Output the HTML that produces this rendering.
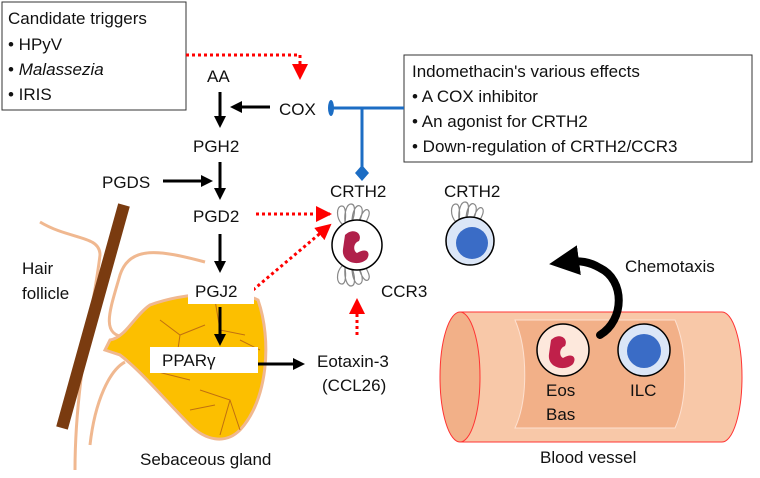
<!DOCTYPE html>
<html><head><style>
body{margin:0;background:#fff}
svg text{font-family:"Liberation Sans",sans-serif;font-size:17px;fill:#111}
</style></head><body>
<svg width="760" height="473" viewBox="0 0 760 473" xmlns="http://www.w3.org/2000/svg">
<defs>
<marker id="ak" markerWidth="12" markerHeight="12" refX="9" refY="6" orient="auto" markerUnits="userSpaceOnUse"><path d="M0,0 L12,6 L0,12 z" fill="#000"/></marker>
<marker id="ar" markerWidth="16" markerHeight="16" refX="14" refY="8" orient="auto" markerUnits="userSpaceOnUse"><path d="M0,0 L16,8 L0,16 z" fill="#f00"/></marker>
<marker id="ab" markerWidth="30" markerHeight="30" refX="14" refY="15" orient="auto" markerUnits="userSpaceOnUse"><path d="M0,0 L30,15 L0,30 z" fill="#000"/></marker>
</defs>
<!-- hair follicle lines -->
<path d="M40,222 C70,240 100,235 100,255 C95,300 75,380 75,470" fill="none" stroke="#f0b890" stroke-width="3"/>
<path d="M205,262 C160,250 130,245 120,275 C110,310 100,335 125,337" fill="none" stroke="#f0b890" stroke-width="3"/>
<path d="M125,362 C110,370 95,400 90,445" fill="none" stroke="#f0b890" stroke-width="3"/>
<!-- gland -->
<path d="M150,305 C185,292 240,290 258,300 C272,340 268,400 240,430 C225,445 205,440 190,425 C165,400 140,370 120,355 L105,350 L110,340 C125,338 135,315 150,305z" fill="#fcbf00" stroke="#f0b890" stroke-width="3"/>
<path d="M160,320 l20,15 l25,-10 M180,335 l-5,35 M200,390 l30,10 l10,30 M215,300 l5,30 l25,5 M150,370 l40,10 M230,400 l-10,35 M240,340 l20,10 M190,410 l25,-5" stroke="#c07010" stroke-width="1" fill="none"/>
<line x1="124" y1="205" x2="62" y2="428" stroke="#7a3b10" stroke-width="12"/>
<!-- boxes -->
<rect x="2" y="2" width="184" height="108" fill="#fff" stroke="#333" stroke-width="1"/>
<text x="8" y="24">Candidate triggers</text>
<text x="8" y="50">• HPyV</text>
<text x="8" y="75">• <tspan font-style="italic">Malassezia</tspan></text>
<text x="8" y="100">• IRIS</text>
<rect x="404" y="55" width="348" height="107" fill="#fff" stroke="#333" stroke-width="1"/>
<text x="412" y="77">Indomethacin's various effects</text>
<text x="412" y="102">• A COX inhibitor</text>
<text x="412" y="127">• An agonist for CRTH2</text>
<text x="412" y="152">• Down-regulation of CRTH2/CCR3</text>
<!-- red dotted -->
<g stroke="#f00" stroke-width="3" stroke-dasharray="3,3" fill="none">
<path d="M186,55 H300 V78" marker-end="url(#ar)"/>
<line x1="256" y1="214" x2="330" y2="214" marker-end="url(#ar)"/>
<line x1="253" y1="290" x2="330" y2="225" marker-end="url(#ar)"/>
<line x1="357" y1="335" x2="357" y2="300" marker-end="url(#ar)"/>
</g>
<!-- black arrows -->
<g stroke="#000" stroke-width="3" fill="none">
<line x1="220" y1="92" x2="220" y2="125" marker-end="url(#ak)"/>
<line x1="270" y1="107" x2="233" y2="107" marker-end="url(#ak)"/>
<line x1="220" y1="162" x2="220" y2="197" marker-end="url(#ak)"/>
<line x1="163" y1="181" x2="210" y2="181" marker-end="url(#ak)"/>
<line x1="220" y1="234" x2="220" y2="270" marker-end="url(#ak)"/>
<line x1="220" y1="307" x2="220" y2="343" marker-end="url(#ak)"/>
<line x1="258" y1="364" x2="302" y2="364" marker-end="url(#ak)"/>
</g>
<!-- blue inhibitor -->
<line x1="333" y1="108" x2="404" y2="108" stroke="#1c6dc4" stroke-width="3"/>
<line x1="362" y1="108" x2="362" y2="170" stroke="#1c6dc4" stroke-width="3"/>
<ellipse cx="331" cy="108" rx="3" ry="8" fill="#1c6dc4"/>
<path d="M362,165 l7,8 l-7,8 l-7,-8z" fill="#1c6dc4"/>
<!-- labels -->
<text x="207" y="82">AA</text>
<text x="279" y="115">COX</text>
<text x="193" y="152">PGH2</text>
<text x="102" y="188">PGDS</text>
<text x="193" y="222">PGD2</text>
<rect x="188" y="280" width="66" height="24" fill="#fff"/>
<text x="195" y="297">PGJ2</text>
<rect x="150" y="347" width="108" height="26" fill="#fff"/>
<text x="162" y="366">PPARγ</text>
<text x="317" y="367">Eotaxin-3</text>
<text x="322" y="391">(CCL26)</text>
<text x="330" y="197">CRTH2</text>
<text x="444" y="197">CRTH2</text>
<text x="381" y="297">CCR3</text>
<text x="22" y="274">Hair</text>
<text x="22" y="299">follicle</text>
<text x="140" y="465">Sebaceous gland</text>
<text x="540" y="463">Blood vessel</text>
<text x="625" y="272">Chemotaxis</text>
<!-- cells -->
<g stroke="#888" stroke-width="1.2" fill="none">
<path d="M342,224 c-6,-6 -6,-18 0,-18 c4,0 4,10 3,16 c-1,-10 2,-18 6,-18 c5,0 4,10 1,18 c0,-10 4,-18 8,-16 c4,2 2,10 -1,16 c2,-8 6,-14 9,-12 c3,3 0,8 -3,14"/>
<path d="M342,266 c-6,6 -6,18 0,18 c4,0 4,-10 3,-16 c-1,10 2,18 6,18 c5,0 4,-10 1,-18 c0,10 4,18 8,16 c4,-2 2,-10 -1,-16 c2,8 6,14 9,12 c3,-3 0,-8 -3,-14"/>
<path d="M456,222 c-6,-6 -6,-18 0,-18 c4,0 4,10 3,16 c-1,-10 2,-18 6,-18 c5,0 4,10 1,18 c0,-10 4,-18 8,-16 c4,2 2,10 -1,16 c2,-8 6,-14 9,-12 c3,3 0,8 -3,14"/>
</g>
<circle cx="357" cy="245" r="25" fill="#fff" stroke="#000" stroke-width="1.5"/>
<path d="M345,235 c8,-8 18,-2 14,6 c-6,2 -6,10 -2,12 c10,-6 14,0 10,6 c-8,8 -26,4 -24,-10z" fill="#b0204a"/>
<circle cx="470" cy="241" r="24" fill="#dbe6f7" stroke="#000" stroke-width="1.5"/>
<circle cx="472" cy="243" r="16" fill="#3a6cc6"/>
<!-- vessel -->
<path d="M460,312 H722 A20,65 0 0 1 722,442 H460 z" fill="#f8c8a8" stroke="#f33" stroke-width="1"/>
<path d="M515,320 H675 C688,350 688,400 675,428 H515 C528,400 528,350 515,320z" fill="#f2b088" stroke="#fde0d0" stroke-width="1"/>
<ellipse cx="460" cy="377" rx="20" ry="65" fill="#f2b088" stroke="#f33" stroke-width="1"/>
<circle cx="563" cy="350" r="26" fill="#fde8dc" stroke="#000" stroke-width="1.5"/>
<path d="M551,340 c8,-8 18,-2 14,6 c-6,2 -6,10 -2,12 c10,-6 14,0 10,6 c-8,8 -26,4 -24,-10z" fill="#c0204a"/>
<circle cx="644" cy="350" r="26" fill="#dbe6f7" stroke="#000" stroke-width="1.5"/>
<circle cx="644" cy="351" r="17" fill="#3a6cc6"/>
<text x="546" y="396">Eos</text>
<text x="546" y="420">Bas</text>
<text x="630" y="396">ILC</text>
<path d="M600,335 C625,320 625,280 600,268 C590,262 580,260 565,262" fill="none" stroke="#000" stroke-width="8" stroke-linecap="round" marker-end="url(#ab)"/>
</svg>
</body></html>
